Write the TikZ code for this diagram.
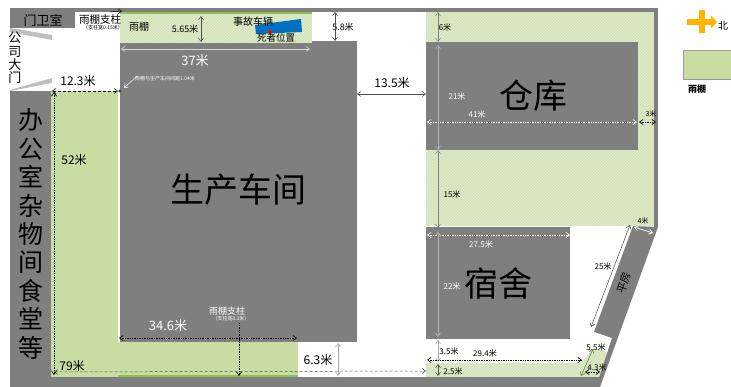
\documentclass[tikz,border=0pt]{standalone}
\usepackage{fontspec}
\setmainfont{Noto Sans CJK SC}
\usetikzlibrary{arrows.meta,patterns}
\definecolor{wallgray}{HTML}{7F7F7F}
\definecolor{shedgreen}{HTML}{C8DDA2}
\definecolor{roofgreen}{HTML}{D3E3B8}
\definecolor{edgegreen}{HTML}{8CC152}
\definecolor{truckblue}{HTML}{0070C0}
\definecolor{northorange}{HTML}{FFB400}
\definecolor{dimgray}{HTML}{A6A6A6}
\tikzset{>={Straight Barb[length=3.5pt,width=5pt]}}
\tikzset{
	lbl/.style={inner sep=0pt,font=\fontsize{#1}{#1}\selectfont},
	wlbl/.style={lbl=#1,text=white},
	roof/.style={fill=roofgreen,postaction={pattern=north east lines,pattern color=white!35!roofgreen}},
	dimw/.style={<->,draw=white!85!black,line width=0.6pt},
	dimg/.style={<->,draw=dimgray,line width=0.6pt},
	dimk/.style={<->,draw=black!70,line width=0.5pt},
	dotk/.style={<->,draw=black,densely dotted,line width=0.7pt},
	dotw/.style={<->,draw=white,densely dotted,line width=0.7pt}
}
\begin{document}
\begin{tikzpicture}[x=1pt,y=-1pt]
	\useasboundingbox (0,0) rectangle (731,387);

	% sheds
	\fill[roof] (120,12) rectangle (312,43);
	\fill[roof] (426,12) -- (654,12) -- (654,226) -- (426,226) -- cycle;
	\fill[roof] (426,363) -- (581,363) -- (592,350) -- (598,349) -- (607,352) -- (600,377) -- (426,377) -- cycle;
	\fill[shedgreen] (51,91) rectangle (118,377);
	\fill[shedgreen] (118,342) rectangle (298,377);
	\fill[edgegreen] (120,12) rectangle (312,14);
	\fill[edgegreen] (118,375) rectangle (298,377);

	% walls and buildings
	\fill[wallgray] (10,8) rectangle (658,12);
	\fill[wallgray] (654,8) rectangle (658,227);
	\fill[wallgray] (10,12) rectangle (75,28);
	\fill[wallgray] (10,91) rectangle (51,387);
	\fill[wallgray] (10,377) rectangle (600,387);
	\fill[wallgray] (120,43) rectangle (357,342);
	\fill[wallgray] (312,41) rectangle (357,43);
	\fill[wallgray] (426,42) rectangle (638,150);
	\fill[wallgray] (426,227) rectangle (570,339);
	\fill[wallgray] (633,226) -- (658,227) -- (600,387) -- (596,387) -- (612,338) -- (594,332) -- cycle;
	\fill[white!75!black] (10,28) -- (52,35) -- (52,40) -- (10,32) -- cycle;
	\fill[white!75!black] (10,90) -- (52,78) -- (52,83) -- (10,91) -- cycle;

	% accident site
	\fill[truckblue] (255,25) -- (301,19) -- (302,32) -- (256,34) -- cycle;
	\fill[red] (270,32) circle (2pt);

	% legend
	\fill[northorange] (687,19) rectangle (711,25);
	\fill[northorange] (699,10) rectangle (705,33);
	\fill[northorange] (711,15.5) -- (717,22) -- (711,28.5) -- cycle;
	\node at (723,26) [lbl=10] (north) {北};
	\node at (708,65) [draw=white!60!black,fill=shedgreen,minimum width=50pt,minimum height=29pt,inner sep=0pt] (legendbox) {};
	\node at (697,89) [lbl=9,font=\fontsize{9}{9}\selectfont\bfseries] (legendtext) {雨棚};

	% names
	\node at (43,20) [lbl=13] (gatehouse) {门卫室};
	\node at (15,58) [lbl=13,align=center,font=\fontsize{13}{13.4}\selectfont] (gate) {公\\司\\大\\门};
	\node at (31,234) [lbl=25,align=center,font=\fontsize{25}{28.4}\selectfont] (office) {办\\公\\室\\杂\\物\\间\\食\\堂\\等};
	\node at (238,190) [lbl=34] (workshop) {生产车间};
	\node at (533,96) [lbl=34] (warehouse) {仓库};
	\node at (498,283) [lbl=34] (dorm) {宿舍};
	\node at (624,283) [lbl=11,rotate=70] (bungalow) {平房};
	\node at (100,20) [lbl=10.5] (pillara) {雨棚支柱};
	\node at (103,28) [lbl=5] (pillarasub) {（支柱宽0.15米）};
	\node at (139,27) [lbl=10] (shed) {雨棚};
	\node at (253,22) [lbl=10] (truck) {事故车辆};
	\node at (276,38) [lbl=9.5] (victim) {死者位置};
	\node at (165,79) [wlbl=5] (gapnote) {雨棚与生产车间间距1.04米};
	\node at (227,311) [wlbl=9] (pillarb) {雨棚支柱};
	\node at (231,319) [wlbl=5] (pillarbsub) {（支柱宽0.3米）};

	% sizes
	\node at (185,29) [lbl=9] (t565) {5.65米};
	\node at (343,27) [lbl=9] (t58) {5.8米};
	\node at (78,81) [lbl=12] (t123) {12.3米};
	\node at (195,61) [wlbl=13] (t37) {37米};
	\node at (392,83) [lbl=12] (t135) {13.5米};
	\node at (74,160) [lbl=12] (t52) {52米};
	\node at (168,326) [wlbl=13] (t346) {34.6米};
	\node at (72,366) [lbl=12] (t79) {79米};
	\node at (318,360) [lbl=12] (t63) {6.3米};
	\node at (445,27) [lbl=8] (t6) {6米};
	\node at (457,96) [wlbl=8] (t21) {21米};
	\node at (477,114) [wlbl=8] (t41) {41米};
	\node at (651,114) [lbl=7] (t3) {3米};
	\node at (452,194) [lbl=8] (t15) {15米};
	\node at (481,244) [wlbl=8] (t275) {27.5米};
	\node at (452,286) [wlbl=8] (t22) {22米};
	\node at (603,266) [lbl=8] (t25) {25米};
	\node at (643,221) [lbl=7] (t4) {4米};
	\node at (449,351) [lbl=8] (t35) {3.5米};
	\node at (485,353) [lbl=8] (t294) {29.4米};
	\node at (453,371) [lbl=8] (t25b) {2.5米};
	\node at (596,347) [lbl=8] (t55) {5.5米};
	\node at (597,367) [lbl=8] (t43) {4.3米};

	% connector ends
	\coordinate (a1) at (201,16); \coordinate (a2) at (201,42);
	\coordinate (b1) at (335,12); \coordinate (b2) at (335,41);
	\coordinate (c1) at (52,91); \coordinate (c2) at (118,91);
	\coordinate (d1) at (121,49); \coordinate (d2) at (310,49);
	\coordinate (e1) at (357,94); \coordinate (e2) at (426,94);
	\coordinate (f1) at (54,92); \coordinate (f2) at (54,375);
	\coordinate (g1) at (119,338); \coordinate (g2) at (297,338);
	\coordinate (h1) at (239,323); \coordinate (h2) at (239,376);
	\coordinate (i1) at (54,372); \coordinate (i2) at (426,371);
	\coordinate (j1) at (338,343); \coordinate (j2) at (338,376);
	\coordinate (k1) at (438,12); \coordinate (k2) at (438,42);
	\coordinate (l1) at (438,45); \coordinate (l2) at (438,150);
	\coordinate (m1) at (427,122); \coordinate (m2) at (637,122);
	\coordinate (n1) at (639,122); \coordinate (n2) at (656,122);
	\coordinate (o1) at (438,150); \coordinate (o2) at (438,228);
	\coordinate (p1) at (427,235); \coordinate (p2) at (570,235);
	\coordinate (q1) at (438,232); \coordinate (q2) at (438,337);
	\coordinate (r1) at (630,225); \coordinate (r2) at (591,327);
	\coordinate (s1) at (634,227); \coordinate (s2) at (653,233);
	\coordinate (u1) at (438,340); \coordinate (u2) at (438,362);
	\coordinate (v1) at (427,360); \coordinate (v2) at (582,360);
	\coordinate (w1) at (438,364); \coordinate (w2) at (438,376);
	\coordinate (y1) at (581,376); \coordinate (y2) at (593,349);
	\coordinate (z1) at (585,372); \coordinate (z2) at (600,372);
	\coordinate (nt) at (124,88); \coordinate (nh) at (137,76);
	\coordinate (pt) at (110,12); \coordinate (ph) at (122,11);

	\draw[dimk] (a1) -- (a2);
	\draw[dimk] (b1) -- (b2);
	\draw[<->,densely dashed,black,line width=0.5pt] (c1) -- (c2);
	\draw[dimw] (d1) -- (d2);
	\draw[dimk] (e1) -- (e2);
	\draw[dotk] (f1) -- (f2);
	\draw[dotk] (g1) -- (g2);
	\draw[dotk,<-] (h2) -- (h1);
	\draw[<->,densely dashed,black!70,line width=0.5pt] (i1) -- (i2);
	\draw[dimg] (j1) -- (j2);
	\draw[dimk,draw=black!50] (k1) -- (k2);
	\draw[dimw,draw=white!70!black] (l1) -- (l2);
	\draw[dotw] (m1) -- (m2);
	\draw[dotk] (n1) -- (n2);
	\draw[dimk,draw=black!50] (o1) -- (o2);
	\draw[dotw] (p1) -- (p2);
	\draw[dimw,draw=white!70!black] (q1) -- (q2);
	\draw[dimk] (r1) -- (r2);
	\draw[<->,draw=white,line width=0.7pt] (s1) -- (s2);
	\draw[dimg] (u1) -- (u2);
	\draw[dotk] (v1) -- (v2);
	\draw[dimk] (w1) -- (w2);
	\draw[<->,draw=edgegreen!70!black,line width=0.6pt] (y1) -- (y2);
	\draw[dotk] (z1) -- (z2);
	\draw[->,draw=white,line width=0.5pt] (nh) -- (nt);
	\draw[->,black,line width=0.5pt] (pt) -- (ph);
	\node at (120,91) [circle,draw,fill=white,inner sep=0.9pt] (mark) {};
\end{tikzpicture}
\end{document}
